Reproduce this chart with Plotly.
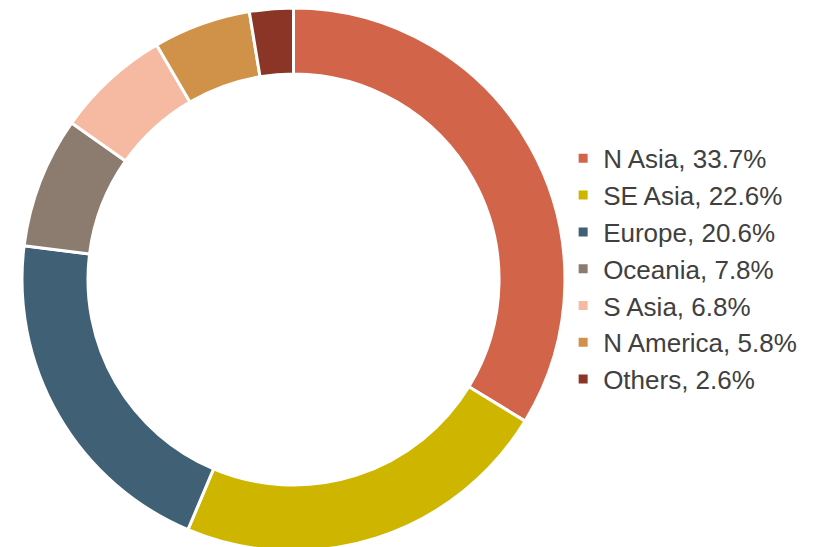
import plotly.graph_objects as go

regions = ["N Asia", "SE Asia", "Europe", "Oceania", "S Asia", "N America", "Others"]
shares = [33.7, 22.6, 20.6, 7.8, 6.8, 5.8, 2.6]
colors = ["#D2644A", "#CDB500", "#3F6075", "#8C7B6F", "#F6B9A1", "#D09249", "#8A3525"]

labels = [f"{r}, {v}%" for r, v in zip(regions, shares)]

W, H = 820, 547
cx, R = 285.5, 271.5

fig = go.Figure(go.Pie(
    labels=labels,
    values=shares,
    hole=0.757,
    sort=False,
    direction="clockwise",
    rotation=0,
    textinfo="none",
    hoverinfo="label",
    marker=dict(colors=colors, line=dict(color="white", width=3)),
    domain=dict(x=[(cx - R) / W, (cx + R) / W], y=[(H - 2 * R) / H, 1]),
))

fig.update_layout(
    width=W, height=H,
    margin=dict(l=0, r=0, t=0, b=0),
    paper_bgcolor="white",
    plot_bgcolor="white",
    font=dict(family="Liberation Sans, Arial, sans-serif", color="#404040"),
    legend=dict(
        x=0.677, y=0.523, xanchor="left", yanchor="middle",
        font=dict(size=26, color="#404040"),
        itemwidth=30,
        bgcolor="rgba(0,0,0,0)",
    ),
)

fig.write_html("out.html")
